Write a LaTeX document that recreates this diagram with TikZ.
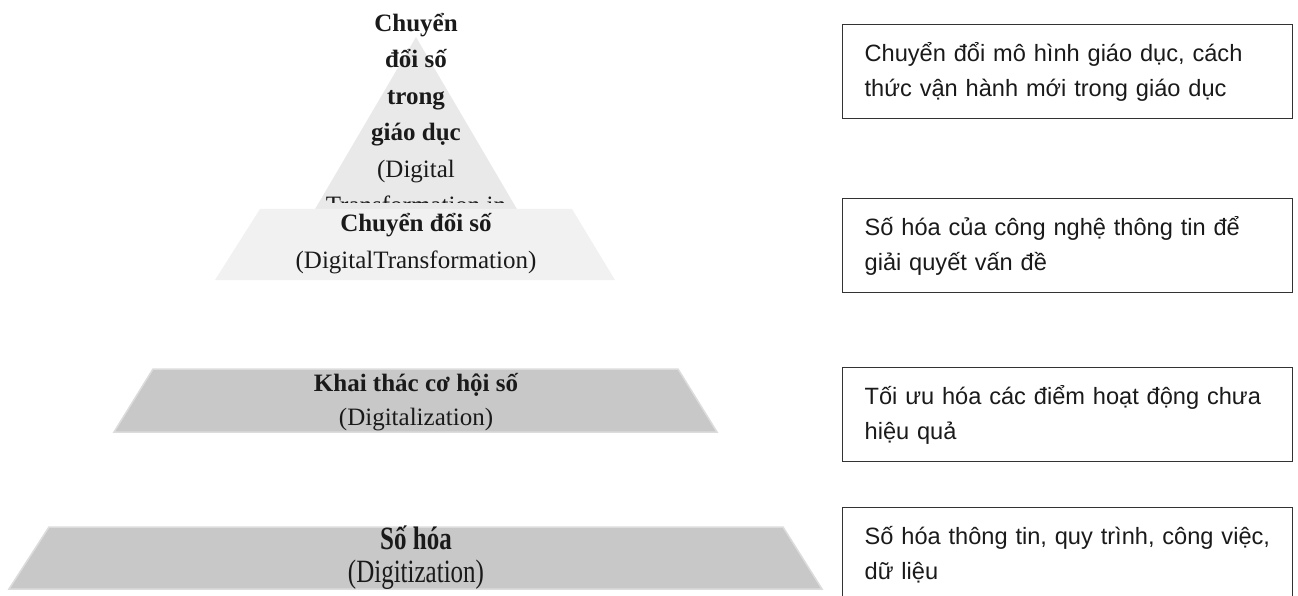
\documentclass[tikz,border=0pt]{standalone}
\usepackage{fontspec}
\setmainfont{Liberation Serif}
\newfontfamily\boxfont{Liberation Sans}
\definecolor{triA}{HTML}{E9E9E9}
\definecolor{trapA}{HTML}{F1F1F1}
\definecolor{trapB}{HTML}{C8C8C8}
\definecolor{trapEdge}{HTML}{DCDCDC}
\definecolor{ink}{HTML}{1A1A1A}
\definecolor{boxline}{HTML}{333333}
\tikzset{
  ptext/.style={anchor=base, inner sep=0pt, text=ink, font=\fontsize{25}{36}\selectfont},
  ptitle/.style={ptext, font=\fontsize{25}{36}\selectfont\bfseries},
  lvlA/.style={fill=trapA, draw=none},
  lvlB/.style={fill=trapB, draw=trapEdge, line width=1.5pt},
  rbox/.style={draw=boxline, line width=1.3pt, fill=white, anchor=north west,
    minimum width=450pt, minimum height=94pt, inner xsep=22pt, align=left,
    text=ink, font=\boxfont\fontsize{23.6}{35}\selectfont, text width=406pt}
}
\begin{document}
\begin{tikzpicture}[x=1pt,y=-1pt]
\path[use as bounding box] (0,0) rectangle (1298,596);
\clip (0,0) rectangle (1298,596);
% apex triangle
\fill[triA] (416,37) -- (521,216) -- (311,216) -- cycle;
\begin{scope}
\clip (280,0) rectangle (560,203);
\node[ptitle] (t1) at (416,32) {Chuyển};
\node[ptitle] (t2) at (416,68) {đổi số};
\node[ptitle] (t3) at (416,104.5) {trong};
\node[ptitle] (t4) at (416,141) {giáo dục};
\node[ptext] (t5) at (416,177.5) {(Digital};
\node[ptext] (t6) at (416,214) {Transformation in};
\end{scope}
% level 1
\path[lvlA] (260,209) -- (572,209) -- (615,280) -- (215,280) -- cycle;
\node[ptitle] (a1) at (416,232) {Chuyển đổi số};
\node[ptext] (a2) at (416,268) {(DigitalTransformation)};
% level 2
\path[lvlB] (153,369) -- (678,369) -- (717,432) -- (114,432) -- cycle;
\node[ptitle] (b1) at (416,391) {Khai thác cơ hội số};
\node[ptext] (b2) at (416,425) {(Digitalization)};
% level 3
\path[lvlB] (49,527) -- (783,527) -- (822,589) -- (9,589) -- cycle;
\node[ptitle, yscale=1.3] (c1) at (416,549) {Số hóa};
\node[ptext, yscale=1.3] (c2) at (416,582) {(Digitization)};
% right boxes
\node[rbox] (r1) at (842,24) {\mbox{Chuyển đổi mô hình giáo dục, cách}\\\mbox{thức vận hành mới trong giáo dục}};
\node[rbox] (r2) at (842,198) {\mbox{Số hóa của công nghệ thông tin để}\\\mbox{giải quyết vấn đề}};
\node[rbox] (r3) at (842,367) {\mbox{Tối ưu hóa các điểm hoạt động chưa}\\\mbox{hiệu quả}};
\node[rbox] (r4) at (842,507) {\mbox{Số hóa thông tin, quy trình, công việc,}\\\mbox{dữ liệu}};
\end{tikzpicture}
\end{document}
